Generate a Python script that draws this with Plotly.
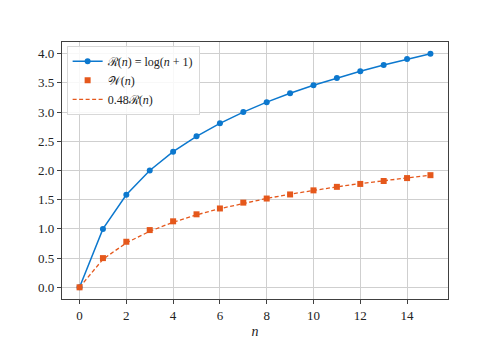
import plotly.graph_objects as go

n = list(range(16))
R = [0.0, 1.0, 1.585, 2.0, 2.322, 2.585, 2.807, 3.0, 3.17, 3.322, 3.459, 3.585, 3.70, 3.807, 3.907, 4.0]
W = [0.0, 0.50, 0.78, 0.98, 1.13, 1.25, 1.35, 1.45, 1.52, 1.59, 1.66, 1.72, 1.77, 1.82, 1.87, 1.92]
scale = 0.48
R_scaled = [scale * r for r in R]

blue = "#0C78CE"
orange = "#E5581C"
font_fam = "Liberation Serif, DejaVu Serif, serif"

fig = go.Figure()
fig.add_trace(go.Scatter(x=n, y=R, mode="lines+markers",
                         line=dict(color=blue, width=1.5),
                         marker=dict(color=blue, size=6, symbol="circle"),
                         name="ℛ(<i>n</i>) = log(<i>n</i> + 1)"))
fig.add_trace(go.Scatter(x=n, y=W, mode="markers",
                         marker=dict(color=orange, size=6, symbol="square"),
                         name="𝒲(<i>n</i>)"))
fig.add_trace(go.Scatter(x=n, y=R_scaled, mode="lines",
                         line=dict(color=orange, width=1.3, dash="4px,2.5px"),
                         name="0.48ℛ(<i>n</i>)"))

axis_common = dict(showgrid=True, gridcolor="#cfcfcf", gridwidth=1,
                   showline=True, linecolor="#404040", linewidth=1.2, mirror=True,
                   ticks="outside", ticklen=4, tickcolor="#404040",
                   zeroline=False, tickfont=dict(family=font_fam, size=13, color="#222"))

fig.update_layout(
    width=498, height=349,
    margin=dict(l=62, r=50, t=42, b=40),
    paper_bgcolor="white", plot_bgcolor="white",
    font=dict(family=font_fam, color="#222"),
    showlegend=True,
    legend=dict(x=0.012, y=0.985, xanchor="left", yanchor="top",
                bgcolor="rgba(255,255,255,0.85)", bordercolor="#d8d8d8", borderwidth=1,
                font=dict(family=font_fam, size=12), tracegroupgap=0, itemwidth=30),
    xaxis=dict(range=[-0.75, 15.75], tickvals=[0, 2, 4, 6, 8, 10, 12, 14],
               title=dict(text="<i>n</i>", font=dict(family=font_fam, size=14), standoff=4),
               **axis_common),
    yaxis=dict(range=[-0.2, 4.2], tickvals=[0, 0.5, 1, 1.5, 2, 2.5, 3, 3.5, 4],
               tickformat=".1f", **axis_common),
)

fig.write_html("out.html", post_script="document.body.style.margin='0';",
               config={"displayModeBar": False})
